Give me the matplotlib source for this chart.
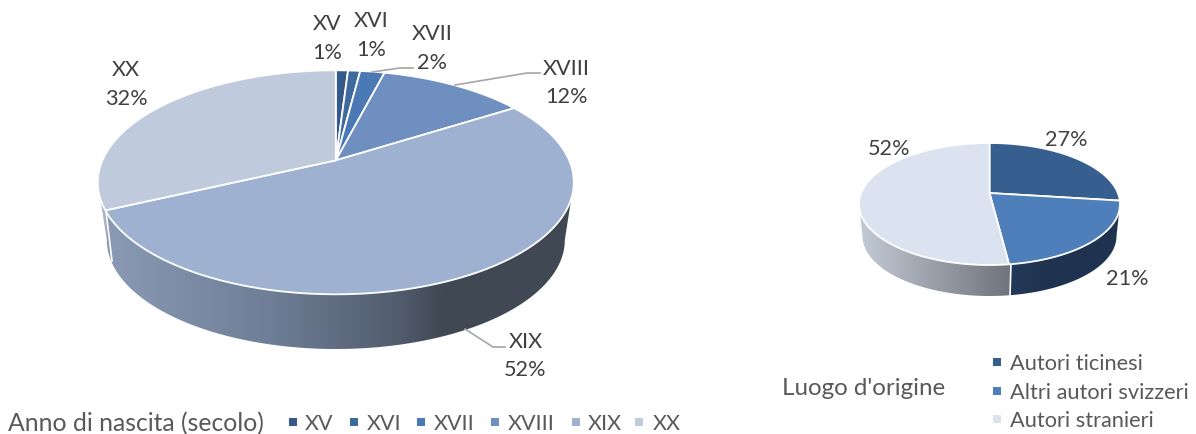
import numpy as np
import matplotlib
matplotlib.use('Agg')
import matplotlib.pyplot as plt
from matplotlib.colors import LinearSegmentedColormap
from matplotlib.patches import PathPatch
from matplotlib.path import Path

# left pie
secoli = ['XV', 'XVI', 'XVII', 'XVIII', 'XIX', 'XX']
secoli_pct = [1, 1, 2, 12, 52, 32]
secoli_colors = ['#35598a', '#3e6a9e', '#4a79b5', '#6e8fc0', '#9fb1d0', '#bfcadd']

# right pie
origine = ['Autori ticinesi', 'Altri autori svizzeri', 'Autori stranieri']
origine_pct = [27, 21, 52]
origine_colors = ['#365e8f', '#4f7fbb', '#dae3ef']

TEXT = '#404040'
LEG = '#595959'
LEADER = '#a6a6a6'

plt.rcParams['font.family'] = ['Lato', 'DejaVu Sans']

fig = plt.figure(figsize=(11.96, 4.35), dpi=100)
ax = fig.add_axes([0, 0, 1, 1])


def project(theta, cx, cy, a, b, p):
    # circle seen in perspective, theta clockwise from the top
    x, y = np.sin(theta), np.cos(theta)
    d = 1 + p * y
    return cx + a * x * np.sqrt(1 - p * p) / d, cy - b * (y + p) / d


def side(x0, x1, cx, cy, a, b, cy2, a2, b2, stops):
    # rim between two x limits, filled with a left-to-right gradient
    t = np.linspace(np.pi, 2 * np.pi, 300)
    xs = np.r_[cx + a * np.cos(t)[::-1], cx + a2 * np.cos(t)]
    ys = np.r_[cy - b * np.sin(t)[::-1], cy2 - b2 * np.sin(t)]
    verts = np.c_[xs, ys]
    path = Path(np.r_[verts, verts[:1]], closed=True)
    cmap = LinearSegmentedColormap.from_list('rim', stops)
    im = ax.imshow(np.linspace(0, 1, 256)[None, :], cmap=cmap, aspect='auto',
                   extent=(x0, x1, cy2 + b2 + 2, cy), interpolation='bilinear',
                   zorder=1)
    im.set_clip_path(PathPatch(path, transform=ax.transData))


def pie3d(values, colors, cx, cy, a, b, p):
    edges = np.cumsum([0] + list(values)) / sum(values) * 2 * np.pi
    apex = (cx, cy - b * p)
    for i, c in enumerate(colors):
        t = np.linspace(edges[i], edges[i + 1], 200)
        sx, sy = project(t, cx, cy, a, b, p)
        ax.fill(np.r_[apex[0], sx], np.r_[apex[1], sy], facecolor=c,
                edgecolor='white', linewidth=1.3, joinstyle='round', zorder=3)
    return edges


# left pie: rim first, then the top
cx, cy, a, b, p = 335.8, 183.3, 238, 112, 0.196
side(97, 107, cx, cy, a, b, 241, 229, 109, [(0, '#b4bccb'), (1, '#a3aec2')])
side(107, 574, cx, cy, a, b, 241, 229, 109,
     [(0, '#8a9ab4'), (0.35, '#6e7e96'), (0.62, '#525d6e'), (0.72, '#404854'), (1, '#404854')])
ax.plot([106, 112], [212, 262], color='white', lw=1.2, zorder=2)
pie3d(secoli_pct, secoli_colors, cx, cy, a, b, p)

# right pie
cx, cy, a, b, p = 989.5, 205, 130.5, 61, 0.18
side(859, 1011, cx, cy, a, b, 237, 127, 60, [(0, '#c3cbd6'), (1, '#6f737b')])
side(1011, 1121, cx, cy, a, b, 237, 127, 60, [(0, '#24395a'), (0.3, '#1f3350'), (1, '#1f3350')])
ax.plot([1011, 1010], [265, 297], color='white', lw=1.2, zorder=2)
pie3d(origine_pct, origine_colors, cx, cy, a, b, p)

# leader lines
for xs, ys in [([372, 400, 413], [73, 69, 69]),
               ([455, 527, 540], [86, 74, 74]),
               ([465, 493, 505], [330, 348, 348])]:
    ax.plot(xs, ys, color=LEADER, lw=1.2, zorder=4)

# data labels
label_pos = [(327, 38.5), (371.5, 35.5), (432, 48.5), (566.5, 83), (525.5, 356), (126, 84.5)]
for name, pct, (x, y) in zip(secoli, secoli_pct, label_pos):
    ax.text(x, y, f'{name}\n{pct}%', ha='center', va='center', fontsize=15.6,
            color=TEXT, linespacing=1.55, zorder=5)
for pct, (x, y) in zip(origine_pct, [(1066, 140), (1127, 279), (889, 149)]):
    ax.text(x, y, f'{pct}%', ha='center', va='center', fontsize=15.6, color=TEXT, zorder=5)

# legends
ax.text(8, 424, 'Anno di nascita (secolo)', ha='left', va='center', fontsize=17.8, color=LEG)
for name, c, sq, tx in zip(secoli, secoli_colors,
                           [293, 354, 421, 495, 576, 639],
                           [305, 367, 434, 508, 588, 653]):
    ax.plot([sq], [423], 's', color=c, ms=5.5, mew=0)
    ax.text(tx, 424, name, ha='left', va='center', fontsize=15.5, color=LEG)

ax.text(782, 389, "Luogo d'origine", ha='left', va='center', fontsize=17.4, color=LEG)
for name, c, y in zip(origine, origine_colors, [363, 392, 420]):
    ax.plot([997], [y], 's', color=c, ms=5.5, mew=0)
    ax.text(1010, y + 1, name, ha='left', va='center', fontsize=15.7, color=LEG)

ax.set_xlim(0, 1196)
ax.set_ylim(435, 0)
ax.axis('off')
fig.savefig('out.png', dpi=100, facecolor='white')
